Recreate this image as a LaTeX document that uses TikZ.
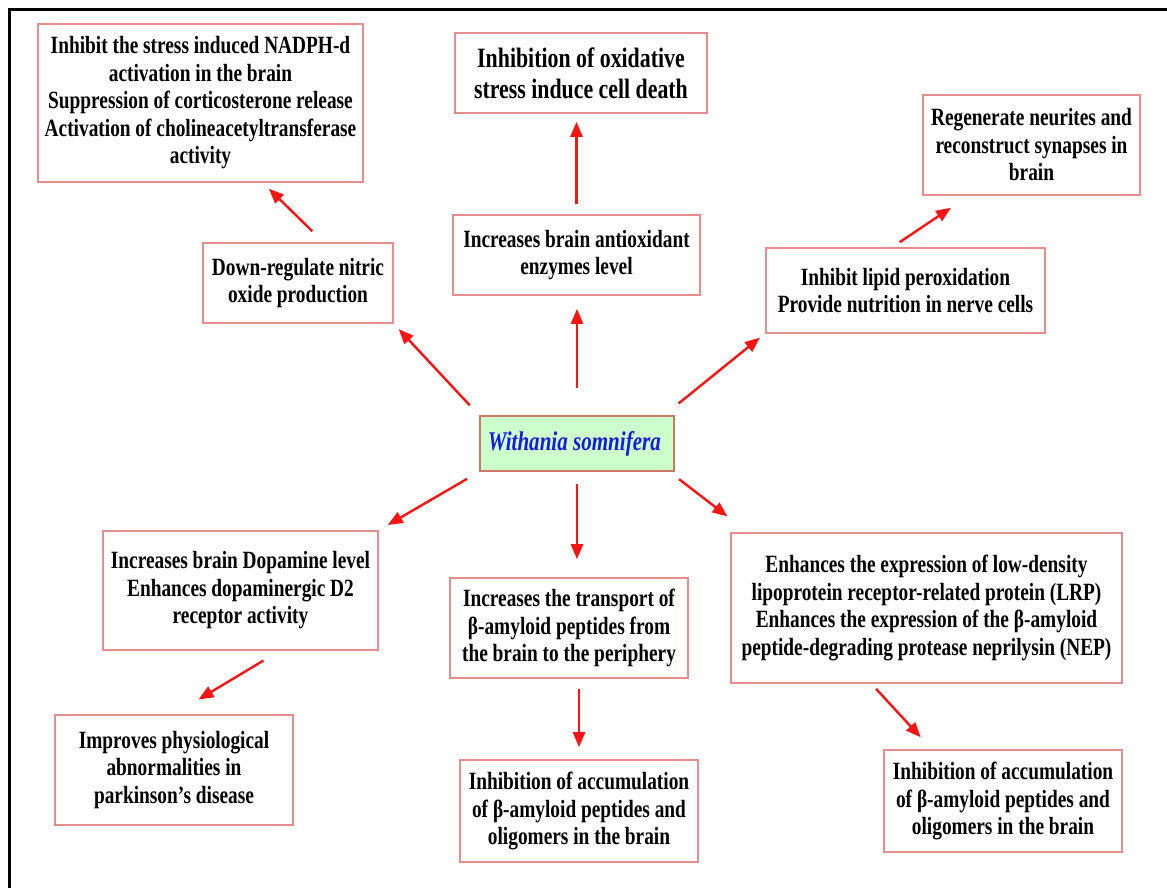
\documentclass[tikz,border=0pt]{standalone}
\usepackage{xcolor}
\usepackage{fontspec}
\setmainfont{Liberation Serif}[FakeStretch=0.78]
\usepackage{tikz}
\usetikzlibrary{positioning, arrows.meta}

\definecolor{boxred}{RGB}{232,140,140}
\definecolor{arrowred}{RGB}{250,20,20}
\definecolor{plantgreen}{RGB}{204,255,204}
\definecolor{plantblue}{RGB}{25,25,225}
\definecolor{plantedge}{RGB}{205,120,100}

\begin{document}
\begin{tikzpicture}[
        x = 0.5pt, y = -0.5pt,
        every node/.style = {
            draw = boxred,
            line width = 0.8pt,
            rectangle,
            align = center,
            inner sep = 2pt,
            font = \bfseries\fontsize{12.4}{13.75}\selectfont
        },
        plant/.style = {
            draw = plantedge,
            fill = plantgreen,
            text = plantblue,
            font = \bfseries\itshape\fontsize{13.5}{15}\selectfont
        },
        big/.style = {
            font = \bfseries\fontsize{14}{15.5}\selectfont
        },
        effect/.style = {
            draw = arrowred,
            line width = 1.2pt,
            -{Triangle[length = 7.5pt, width = 6pt]}
        }
    ]
        \useasboundingbox (0,0) rectangle (1167,888);
        \draw[line width = 1.5pt] (9,888) -- (9,10) -- (1167,10);

        % centre
        \node[plant, minimum width = 97pt, minimum height = 27.5pt] (ws) at (577, 443.5) {
            Withania somnifera
        };

        % upper half
        \node[minimum width = 162.5pt, minimum height = 79pt] (tl) at (200.5, 103) {
            Inhibit the stress induced NADPH-d \\
            activation in the brain \\
            Suppression of corticosterone release \\
            Activation of cholineacetyltransferase \\
            activity
        };
        \node[big, minimum width = 126pt, minimum height = 40pt] (tc) at (581, 73) {
            Inhibition of oxidative \\
            stress induce cell death
        };
        \node[minimum width = 108.5pt, minimum height = 50pt] (tr) at (1031.5, 145) {
            Regenerate neurites and \\
            reconstruct synapses in \\
            brain
        };
        \node[minimum width = 95pt, minimum height = 40pt] (dr) at (298, 283) {
            Down-regulate nitric \\
            oxide production
        };
        \node[minimum width = 123.5pt, minimum height = 40pt] (ao) at (576.5, 255) {
            Increases brain antioxidant \\
            enzymes level
        };
        \node[minimum width = 139.5pt, minimum height = 42.5pt] (lp) at (905.5, 290.5) {
            Inhibit lipid peroxidation \\
            Provide nutrition in nerve cells
        };

        % lower half
        \node[minimum width = 137.5pt, minimum height = 59.5pt] (dp) at (240.5, 590.5) {
            Increases brain Dopamine level \\
            Enhances dopaminergic D2 \\
            receptor activity
        };
        \node[minimum width = 119pt, minimum height = 50pt] (tp) at (569, 628) {
            Increases the transport of \\
            β-amyloid peptides from \\
            the brain to the periphery
        };
        \node[minimum width = 195.5pt, minimum height = 75pt] (lrp) at (926.5, 608) {
            Enhances the expression of low-density \\
            lipoprotein receptor-related protein (LRP) \\
            Enhances the expression of the β-amyloid \\
            peptide-degrading protease neprilysin (NEP)
        };
        \node[minimum width = 119pt, minimum height = 55pt] (pk) at (174, 770) {
            Improves physiological \\
            abnormalities in \\
            parkinson’s disease
        };
        \node[minimum width = 119pt, minimum height = 51pt] (ac) at (579, 811) {
            Inhibition of accumulation \\
            of β-amyloid peptides and \\
            oligomers in the brain
        };
        \node[minimum width = 119pt, minimum height = 51pt] (ar) at (1003, 801) {
            Inhibition of accumulation \\
            of β-amyloid peptides and \\
            oligomers in the brain
        };

        % arrows
        \draw[effect, shorten <= 6.9pt, shorten >= 3.6pt] (ws.164) -- (dr.south east);
        \draw[effect, shorten <= 7.8pt, shorten >= 4.2pt] (dr.58) -- (tl.-52);
        \draw[effect, shorten <= 13.5pt, shorten >= 6.5pt] (ws.north) -- (ws.north |- ao.south);
        \draw[effect, shorten <= 5pt, shorten >= 4pt] (ao.north) -- (ao.north |- tc.south);
        \draw[effect, shorten <= 9.3pt, shorten >= 3.4pt] (ws.18) -- (lp.197);
        \draw[effect, shorten <= 4.5pt, shorten >= 10.7pt] (lp.107) -- (tr.219);
        \draw[effect, shorten <= 7pt, shorten >= 5.2pt] (ws.south west) -- (dp.north east);
        \draw[effect, shorten <= 9.5pt, shorten >= 14.3pt] (dp.-57) -- (pk.north);
        \draw[effect, shorten <= 6pt, shorten >= 9pt] (ws.south) -- (ws.south |- tp.north);
        \draw[effect, shorten <= 5pt, shorten >= 6pt] (ac.north |- tp.south) -- (ac.north);
        \draw[effect, shorten <= 6pt, shorten >= 12.9pt] (ws.-17) -- (lrp.157);
        \draw[effect, shorten <= 3.4pt, shorten >= 8.1pt] (lrp.234) -- (ar.144);
    \end{tikzpicture}
\end{document}
